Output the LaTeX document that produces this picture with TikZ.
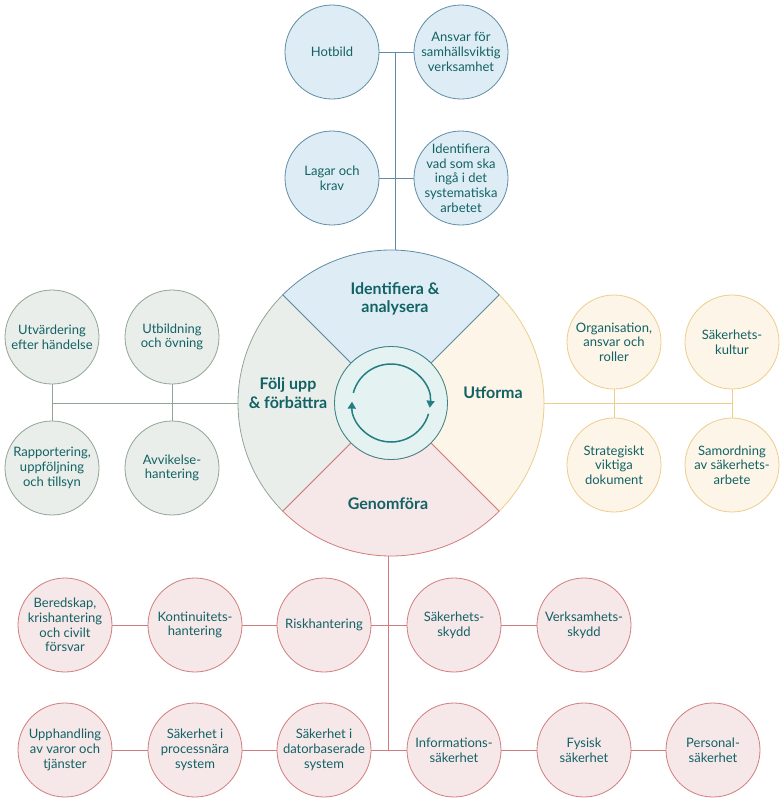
\documentclass[tikz,border=0pt]{standalone}
\usepackage{fontspec}
\setmainfont{Lato}
\usepackage{tikz}
\usetikzlibrary{positioning, calc, arrows.meta}
\definecolor{skText}{RGB}{18,98,100}
\definecolor{skBlue}{RGB}{95,140,165}
\definecolor{skBlueFill}{RGB}{222,237,245}
\definecolor{skGreen}{RGB}{145,165,150}
\definecolor{skGreenFill}{RGB}{233,238,234}
\definecolor{skYellow}{RGB}{238,205,140}
\definecolor{skYellowFill}{RGB}{252,245,232}
\definecolor{skRed}{RGB}{210,125,125}
\definecolor{skRedFill}{RGB}{246,231,233}
\definecolor{skTeal}{RGB}{60,130,135}
\definecolor{skTealFill}{RGB}{228,243,241}
\definecolor{skArrow}{RGB}{35,125,130}

\tikzset{
  topic/.style={circle, line width=0.8pt, minimum size=94pt, inner sep=-12pt, align=center,
    text=skText, font=\fontsize{13}{14.7}\selectfont},
  blueTopic/.style={topic, draw=skBlue, fill=skBlueFill},
  greenTopic/.style={topic, draw=skGreen, fill=skGreenFill},
  yellowTopic/.style={topic, draw=skYellow, fill=skYellowFill},
  redTopic/.style={topic, draw=skRed, fill=skRedFill},
  phase/.style={text=skText, align=center, font=\fontsize{16}{18.5}\selectfont\bfseries},
  link/.style={line width=0.8pt}
}

\begin{document}
\begin{tikzpicture}[x=1pt, y=1pt]
    \useasboundingbox (0,0) rectangle (784,-804);
    \coordinate (hub) at (391,-403);

    % the wheel
    \foreach \a/\col/\fil in {135/skGreen/skGreenFill, -45/skYellow/skYellowFill, 45/skBlue/skBlueFill, 225/skRed/skRedFill}
      \filldraw[draw=\col, fill=\fil, line width=0.8pt]
        ($(hub)+(\a:153)$) arc[start angle=\a, delta angle=90, radius=153]
        -- ($(hub)+(\a+90:56.5)$) arc[start angle=\a+90, delta angle=-90, radius=56.5] -- cycle;
    \node[circle, minimum size=306pt, inner sep=0pt] (main) at (hub) {};
    \node[circle, draw=skTeal, fill=skTealFill, line width=0.8pt, minimum size=113pt, inner sep=0pt] (core) at (hub) {};
    \draw[skArrow, line width=1.5pt, -{Triangle[width=8pt,length=7pt]}]
      ($(hub)+(165:39)$) arc[start angle=165, end angle=-7, radius=39];
    \draw[skArrow, line width=1.5pt, -{Triangle[width=8pt,length=7pt]}]
      ($(hub)+(-16:39)$) arc[start angle=-16, end angle=-182, radius=39];

    \node[phase] (identify) at (395,-299) {Identifiera \&\\analysera};
    \node[phase] (design) at (493,-393) {Utforma};
    \node[phase] (followup) at (288,-393) {Följ upp\\\& förbättra};
    \node[phase] (execute) at (388,-504) {Genomföra};

    % identifiera & analysera
    \node[blueTopic] (threat) at (332,-52) {Hotbild};
    \node[blueTopic] (duty) at (461,-52) {Ansvar för\\samhällsviktig\\verksamhet};
    \node[blueTopic] (laws) at (332,-178) {Lagar och\\krav};
    \node[blueTopic] (scope) at (461,-178) {Identifiera\\vad som ska\\ingå i det\\systematiska\\arbetet};
    \coordinate (topTrunk) at (395,-52);
    \draw[link, skBlue] (threat.east) -- (duty.west);
    \draw[link, skBlue] (laws.east) -- (scope.west);
    \draw[link, skBlue] (topTrunk) -- (topTrunk |- main.north);

    % följ upp & förbättra
    \node[greenTopic] (review) at (52,-337) {Utvärdering\\efter händelse};
    \node[greenTopic] (training) at (172,-337) {Utbildning\\och övning};
    \node[greenTopic] (report) at (52,-468) {Rapportering,\\uppföljning\\och tillsyn};
    \node[greenTopic] (deviation) at (172,-468) {Avvikelse-\\hantering};
    \draw[link, skGreen] (review |- hub) -- (main.west);
    \draw[link, skGreen] (review.south) -- (report.north);
    \draw[link, skGreen] (training.south) -- (deviation.north);

    % utforma
    \node[yellowTopic] (roles) at (614,-342) {Organisation,\\ansvar och\\roller};
    \node[yellowTopic] (culture) at (732,-342) {Säkerhets-\\kultur};
    \node[yellowTopic] (documents) at (614,-465) {Strategiskt\\viktiga\\dokument};
    \node[yellowTopic] (coord) at (732,-465) {Samordning\\av säkerhets-\\arbete};
    \draw[link, skYellow] (main.east) -- (culture |- hub);
    \draw[link, skYellow] (roles.south) -- (documents.north);
    \draw[link, skYellow] (culture.south) -- (coord.north);

    % genomföra
    \node[redTopic] (preparedness) at (65,-625) {Beredskap,\\krishantering\\och civilt\\försvar};
    \node[redTopic] (continuity) at (195,-625) {Kontinuitets-\\hantering};
    \node[redTopic] (risk) at (324,-625) {Riskhantering};
    \node[redTopic] (protective) at (454,-625) {Säkerhets-\\skydd};
    \node[redTopic] (operations) at (584,-625) {Verksamhets-\\skydd};
    \node[redTopic] (procurement) at (65,-750) {Upphandling\\av varor och\\tjänster};
    \node[redTopic] (ics) at (195,-750) {Säkerhet i\\processnära\\system};
    \node[redTopic] (it) at (324,-750) {Säkerhet i\\datorbaserade\\system};
    \node[redTopic] (infosec) at (454,-750) {Informations-\\säkerhet};
    \node[redTopic] (physical) at (584,-750) {Fysisk\\säkerhet};
    \node[redTopic] (personnel) at (713,-750) {Personal-\\säkerhet};
    \coordinate (bottomTrunk) at (388,-750);
    \draw[link, skRed] (bottomTrunk |- main.south) -- (bottomTrunk);
    \draw[link, skRed] (preparedness.east) -- (continuity.west);
    \draw[link, skRed] (continuity.east) -- (risk.west);
    \draw[link, skRed] (risk.east) -- (protective.west);
    \draw[link, skRed] (protective.east) -- (operations.west);
    \draw[link, skRed] (procurement.east) -- (ics.west);
    \draw[link, skRed] (ics.east) -- (it.west);
    \draw[link, skRed] (it.east) -- (infosec.west);
    \draw[link, skRed] (infosec.east) -- (physical.west);
    \draw[link, skRed] (physical.east) -- (personnel.west);
\end{tikzpicture}
\end{document}
